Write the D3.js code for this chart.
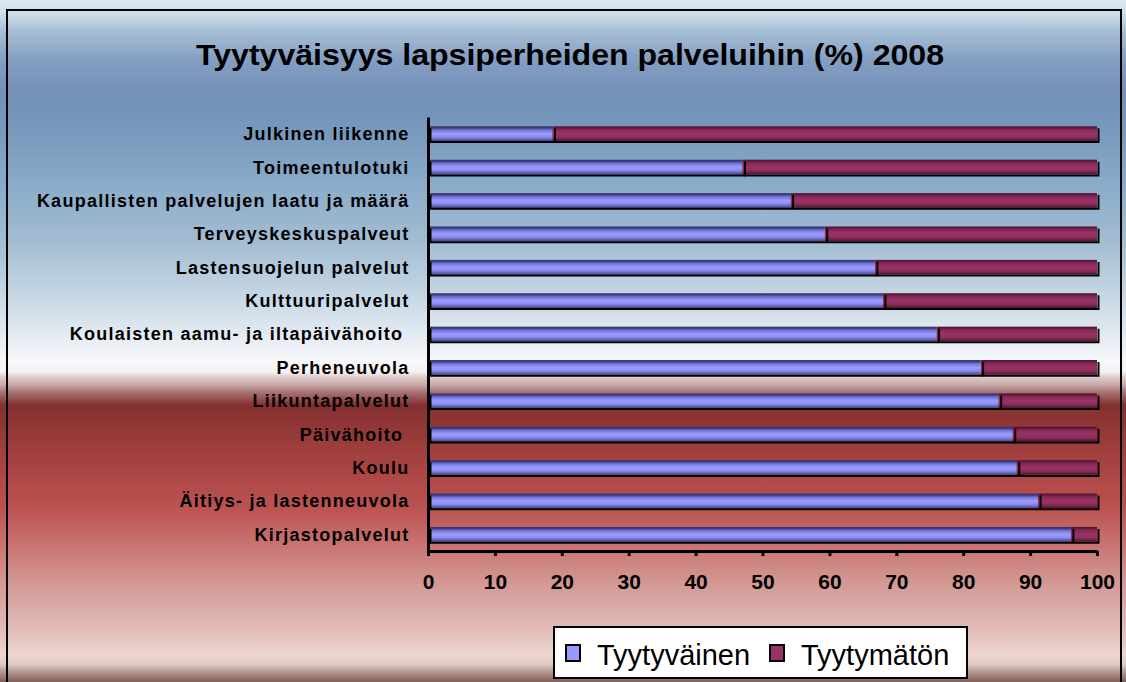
<!DOCTYPE html>
<html><head><meta charset="utf-8">
<script src="https://cdn.jsdelivr.net/npm/d3@7"></script>
<style>
html,body{margin:0;padding:0;background:#fff;}
svg{display:block;font-family:"Liberation Sans",Arial,sans-serif;}
</style>
</head><body>
<svg id="chart" width="1126" height="682"></svg>
<script>
const title = "Tyytyväisyys lapsiperheiden palveluihin (%) 2008";
const categories = [
  "Julkinen liikenne",
  "Toimeentulotuki",
  "Kaupallisten palvelujen laatu ja määrä",
  "Terveyskeskuspalveut",
  "Lastensuojelun palvelut",
  "Kulttuuripalvelut",
  "Koulaisten aamu- ja iltapäivähoito ",
  "Perheneuvola",
  "Liikuntapalvelut",
  "Päivähoito ",
  "Koulu",
  "Äitiys- ja lastenneuvola",
  "Kirjastopalvelut"
];
const seriesNames = ["Tyytyväinen", "Tyytymätön"];
const satisfied =    [18.6, 47.0, 54.2, 59.3, 66.8, 68.0, 76.0, 82.6, 85.3, 87.4, 88.0, 91.2, 96.1];
const dissatisfied = [81.4, 53.0, 45.8, 40.7, 33.2, 32.0, 24.0, 17.4, 14.7, 12.6, 12.0,  8.8,  3.9];
const xTicks = [0, 10, 20, 30, 40, 50, 60, 70, 80, 90, 100];

const svg = d3.select("#chart");
const W = 1126, H = 682;
const defs = svg.append("defs");

// background gradient
const bg = defs.append("linearGradient").attr("id", "bg")
  .attr("gradientUnits", "userSpaceOnUse").attr("x1", 0).attr("y1", 0).attr("x2", 0).attr("y2", H);
[[0,"#dce8f2"],[12,"#d0e0ec"],[30,"#a8c0d6"],[60,"#849ec2"],[95,"#7490b8"],[130,"#7898bc"],
 [180,"#88aac8"],[240,"#a2bcd2"],[290,"#c2d4e2"],[330,"#e0e8f0"],[360,"#f6f8fa"],[372,"#f6f2f2"],
 [377,"#e0cccc"],[385,"#c8a8a8"],[392,"#a87474"],[399,"#945050"],[405,"#843030"],[440,"#983c3a"],
 [480,"#b04848"],[510,"#bc5454"],[545,"#c87470"],[585,"#d49a96"],[625,"#e0b8b4"],[655,"#ecd6ce"],
 [664,"#e0ccc4"],[670,"#c0a49c"],[676,"#a08078"],[682,"#806058"]]
 .forEach(([y,c]) => bg.append("stop").attr("offset", y / H).attr("stop-color", c));

function barGrad(id, stops) {
  const g = defs.append("linearGradient").attr("id", id).attr("x1",0).attr("y1",0).attr("x2",0).attr("y2",1);
  stops.forEach(([o,c]) => g.append("stop").attr("offset", o).attr("stop-color", c));
}
barGrad("gBlue", [[0,"#303068"],[0.12,"#404088"],[0.25,"#7474d8"],[0.5,"#9c9cff"],[0.7,"#9090f4"],[0.88,"#6464b8"],[1,"#404078"]]);
barGrad("gRed",  [[0,"#401028"],[0.12,"#6a1c44"],[0.25,"#882a58"],[0.5,"#993366"],[0.7,"#92305f"],[0.88,"#6e2046"],[1,"#4a1430"]]);
const fills = ["url(#gBlue)", "url(#gRed)"];

svg.append("rect").attr("width", W).attr("height", H).attr("fill", "url(#bg)");
svg.append("rect").attr("x", 7).attr("y", 10).attr("width", 1114).attr("height", 690)
  .attr("fill", "none").attr("stroke", "#000").attr("stroke-width", 2);

// title
svg.append("text").attr("x", 570).attr("y", 65).attr("text-anchor", "middle")
  .attr("font-size", 30).attr("font-weight", "bold").attr("fill", "#000")
  .attr("textLength", 748).attr("lengthAdjust", "spacingAndGlyphs").text(title);

// scales
const x = d3.scaleLinear().domain([0, 100]).range([428, 1097]);
const y = d3.scaleBand().domain(categories).range([117, 551]).paddingInner(0.56).paddingOuter(0.28);

const rows = categories.map((c, i) => ({cat: c, s0: satisfied[i], s1: dissatisfied[i]}));
const stack = d3.stack().keys(["s0", "s1"])(rows);

const bh = y.bandwidth();
stack.forEach((layer, li) => {
  const g = svg.append("g");
  layer.forEach(d => {
    const x0 = x(d[0]), x1 = x(d[1]), yy = y(d.data.cat);
    g.append("rect").attr("x", x0).attr("y", yy).attr("width", x1 - x0).attr("height", bh)
      .attr("fill", fills[li]);
    g.append("path")
      .attr("d", `M${x0 + 2.5},${yy + 2}V${yy + bh + 1}H${x1 + 1.5}V${yy + 2}`)
      .attr("fill", "none").attr("stroke", "#000").attr("stroke-width", 2);
  });
});

// axes
const xAxis = svg.append("g").attr("transform", "translate(0,551)")
  .call(d3.axisBottom(x).tickValues(xTicks).tickSize(5).tickSizeOuter(0).tickPadding(18));
xAxis.select(".domain").attr("stroke", "#000").attr("stroke-width", 3);
xAxis.selectAll(".tick line").attr("stroke", "#000").attr("stroke-width", 3);
xAxis.selectAll(".tick text").attr("font-size", 21).attr("font-weight", "bold")
  .attr("font-family", '"Liberation Sans",Arial,sans-serif').attr("fill", "#000");

const yAxis = svg.append("g").attr("transform", "translate(428,0)")
  .call(d3.axisLeft(y).tickSize(0).tickSizeOuter(0).tickPadding(18.5));
yAxis.select(".domain").attr("stroke", "#000").attr("stroke-width", 3);
yAxis.selectAll(".tick text").attr("font-size", 18).attr("font-weight", "bold")
  .attr("font-family", '"Liberation Sans",Arial,sans-serif').attr("fill", "#000")
  .style("letter-spacing", "1.25px").style("white-space", "pre").attr("dy", "0.36em");

// legend
const lg = svg.append("g");
lg.append("rect").attr("x", 554).attr("y", 627).attr("width", 413).attr("height", 51)
  .attr("fill", "#fff").attr("stroke", "#000").attr("stroke-width", 2);
const legendX = [566, 770];
const legendTextX = [597, 801];
seriesNames.forEach((n, i) => {
  lg.append("rect").attr("x", legendX[i]).attr("y", 645).attr("width", 14).attr("height", 16)
    .attr("fill", i === 0 ? "#9999ff" : "#993366").attr("stroke", "#000").attr("stroke-width", 2);
  lg.append("text").attr("x", legendTextX[i]).attr("y", 665).attr("font-size", 29)
    .attr("fill", "#000").text(n);
});
</script>
</body></html>
